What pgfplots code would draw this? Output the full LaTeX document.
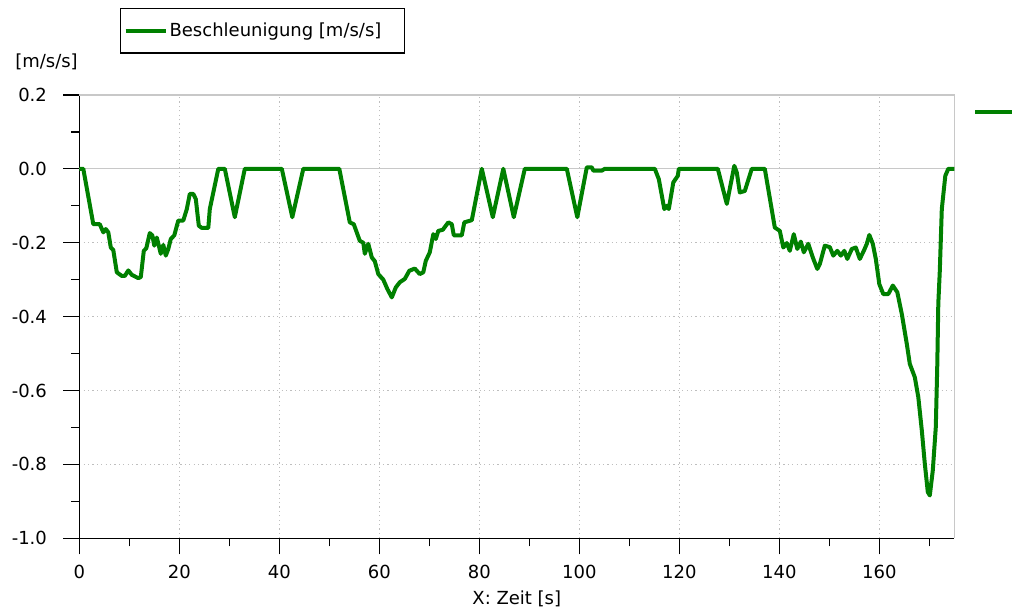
\documentclass[border=0pt]{standalone}
\usepackage{fontspec}
\setmainfont{DejaVu Sans}
\usepackage{pgfplots}
\pgfplotsset{compat=1.18}
\usepackage{pgfplotstable}
\definecolor{curvegreen}{RGB}{0,128,0}
\definecolor{gridgray}{RGB}{190,190,190}
\definecolor{framegray}{RGB}{200,200,200}
\pgfplotstableread{
x y
0 0
0.8 0
2.8 -0.15
4.1 -0.15
4.8 -0.172
5.3 -0.163
5.8 -0.172
6.3 -0.213
6.8 -0.22
7.5 -0.28
8.5 -0.29
9.1 -0.29
9.8 -0.275
10.5 -0.287
11.8 -0.296
12.3 -0.293
12.9 -0.222
13.4 -0.215
14.1 -0.174
14.6 -0.18
15.0 -0.208
15.5 -0.186
15.9 -0.208
16.3 -0.23
16.8 -0.206
17.3 -0.235
17.8 -0.217
18.3 -0.19
19.0 -0.18
19.8 -0.14
20.8 -0.14
21.5 -0.109
22.1 -0.068
22.8 -0.068
23.3 -0.082
23.9 -0.154
24.5 -0.16
25.8 -0.16
26.1 -0.109
27.8 0
29.1 0
31.1 -0.131
33.1 0
40.5 0
42.6 -0.131
44.8 0
52.0 0
54.1 -0.145
54.9 -0.15
56.1 -0.195
56.8 -0.2
57.1 -0.23
57.8 -0.203
58.5 -0.24
59.1 -0.25
59.8 -0.285
60.8 -0.3
61.6 -0.325
62.5 -0.348
63.3 -0.321
64.1 -0.307
65.1 -0.298
66.0 -0.276
67.1 -0.27
68.1 -0.285
68.8 -0.28
69.3 -0.249
70.1 -0.226
70.8 -0.177
71.3 -0.19
71.8 -0.168
72.7 -0.165
73.8 -0.145
74.5 -0.15
74.9 -0.18
76.5 -0.18
77.0 -0.145
78.5 -0.139
80.5 0
82.7 -0.131
84.8 0
86.9 -0.131
89.1 0
97.5 0
99.6 -0.131
101.5 0.004
102.5 0.004
102.8 -0.005
104.5 -0.005
105.1 0
115.1 0
115.9 -0.028
117.0 -0.109
117.5 -0.1
117.9 -0.109
118.8 -0.037
119.7 -0.019
119.9 0
127.7 0
129.5 -0.095
131.0 0.008
131.5 -0.01
132.1 -0.064
133.1 -0.06
134.5 0
137.1 0
139.1 -0.159
140.1 -0.168
140.8 -0.213
141.5 -0.201
142.1 -0.222
142.9 -0.177
143.6 -0.217
144.3 -0.197
144.9 -0.226
145.8 -0.203
146.7 -0.24
147.6 -0.271
148.1 -0.258
149.1 -0.208
150.1 -0.212
150.8 -0.235
151.6 -0.222
152.3 -0.235
153.0 -0.222
153.6 -0.244
154.5 -0.217
155.3 -0.213
156.1 -0.244
156.9 -0.222
157.5 -0.203
158.0 -0.179
158.7 -0.203
159.3 -0.244
160.0 -0.312
160.8 -0.339
161.8 -0.339
162.7 -0.316
163.6 -0.334
164.5 -0.393
165.5 -0.474
166.1 -0.528
167.1 -0.564
167.8 -0.618
168.5 -0.708
169.1 -0.798
169.7 -0.875
170.1 -0.884
170.7 -0.816
171.3 -0.699
171.6 -0.528
171.8 -0.365
172.1 -0.276
172.5 -0.109
173.2 -0.019
173.8 0
175 0
}\accdata
\begin{document}
\fontsize{9}{11}\selectfont
\begin{tikzpicture}
\useasboundingbox (-39.65pt,-36.35pt) rectangle (466.35pt,269.15pt);
\begin{axis}[
  scale only axis,
  width=437.5pt, height=221.7pt,
  xmin=0, xmax=175, ymin=-1, ymax=0.2,
  axis lines*=left,
  axis line style={black, line width=0.65pt},
  clip=false,
  xtick={0,20,...,160},
  minor xtick={10,30,...,170},
  ytick={-1,-0.8,-0.6,-0.4,-0.2,0,0.2},
  yticklabels={-1.0,-0.8,-0.6,-0.4,-0.2,0.0,0.2},
  minor ytick={-0.9,-0.7,-0.5,-0.3,-0.1,0.1},
  /pgf/number format/assume math mode=true,
  tick align=outside,
  major tick length=8pt,
  minor tick length=4pt,
  tick style={black, line width=0.65pt},
  yticklabel style={xshift=-5pt},
  xticklabel style={yshift=-2pt},
  xmajorgrids, ymajorgrids,
  major grid style={gridgray, line width=0.5pt, dash pattern=on 0.6pt off 1.6pt},
  extra y ticks={0},
  extra y tick labels={},
  extra y tick style={major tick length=0pt, major grid style={framegray, solid, line width=0.6pt}},
  xlabel={X: Zeit [s]},
  every axis x label/.style={at={(axis description cs:0.5,-0.1358)}, anchor=center},
  ylabel={[m/s/s]},
  every axis y label/.style={at={(axis description cs:-0.0805,1.0744)}, anchor=west},
  legend style={at={(axis description cs:0.0465,1.196)}, anchor=north west,
    draw=black, line width=0.6pt, inner xsep=1.5pt, inner ysep=5pt, legend cell align=left},
  legend image code/.code={\draw[#1] (0pt,0pt) -- (20pt,0pt);},
]
\draw[framegray, line width=0.6pt] (rel axis cs:0,1) -- (rel axis cs:1,1) -- (rel axis cs:1,0);
\addplot[curvegreen, line width=2pt, line join=round] table[x=x, y=y] {\accdata};
\addlegendentry{\kern-1pt Beschleunigung [m/s/s]\kern8pt}
\draw[curvegreen, line width=2pt] (rel axis cs:1.0237,0.9617) -- (rel axis cs:1.08,0.9617);
\end{axis}
\end{tikzpicture}
\end{document}
